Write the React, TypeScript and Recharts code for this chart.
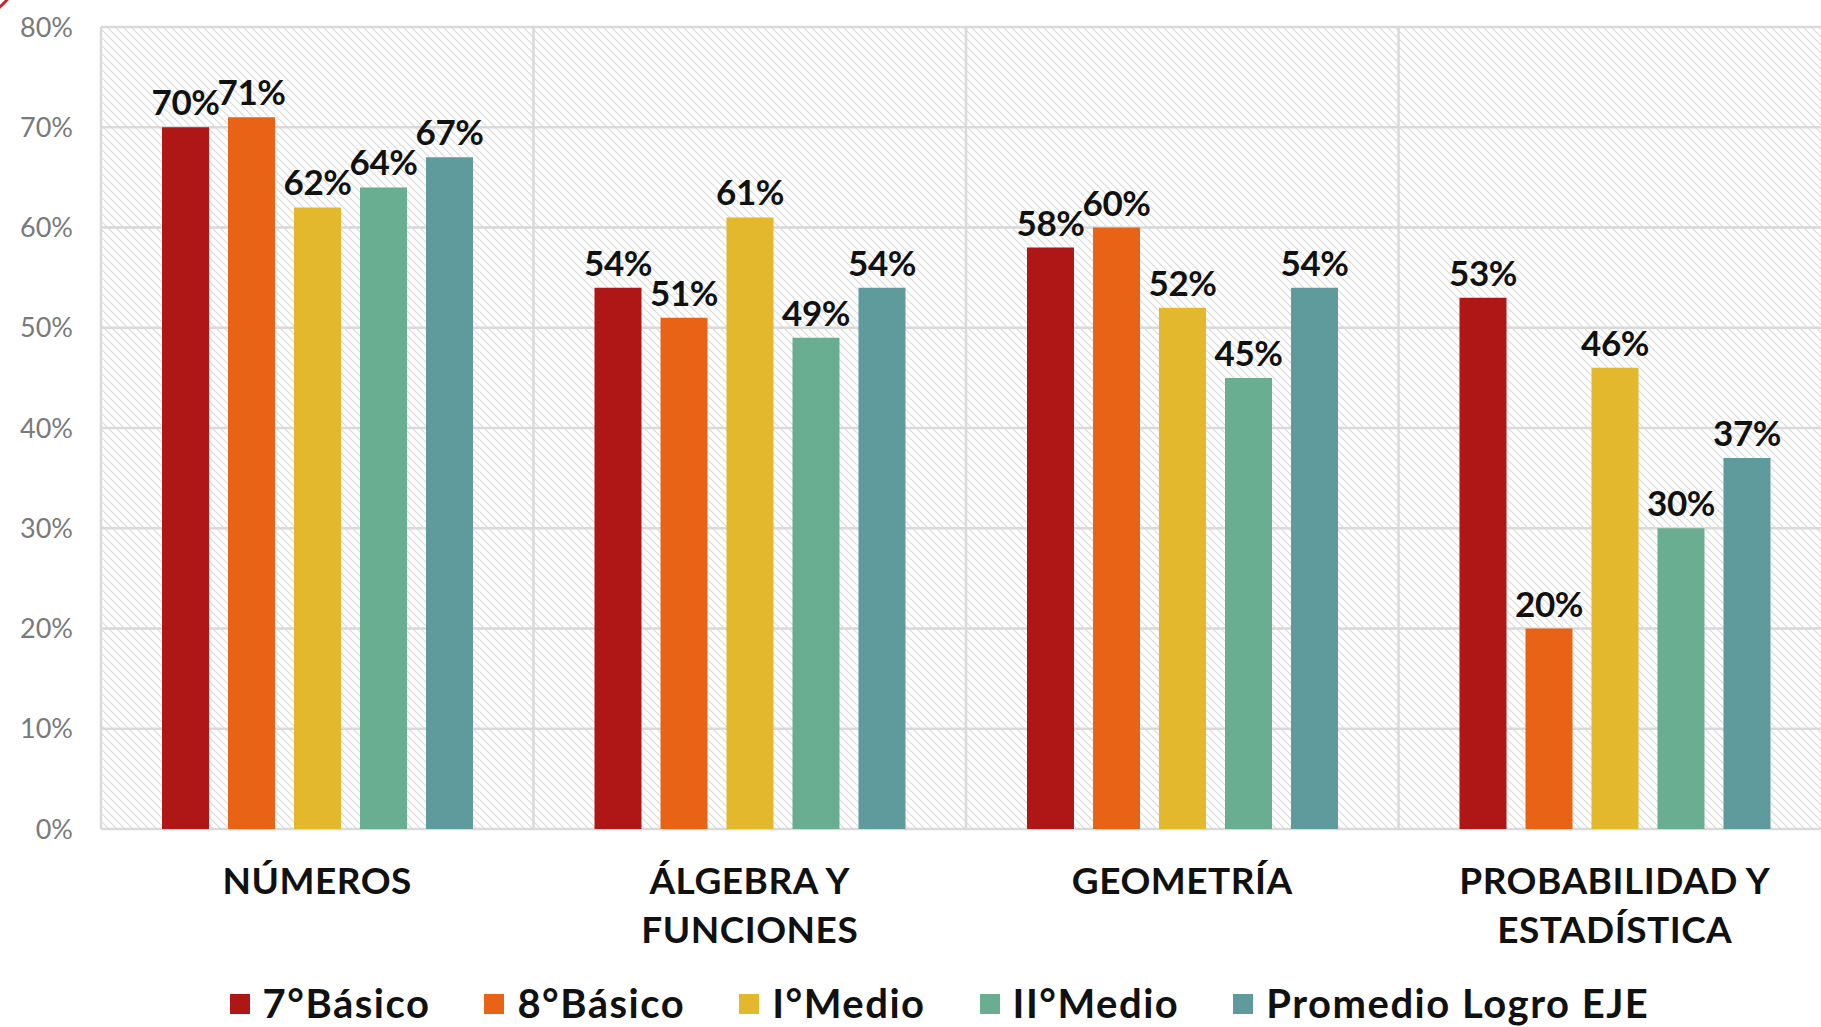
import React from 'react';
import { BarChart, Bar, XAxis, YAxis, CartesianGrid, Legend, LabelList } from 'recharts';

const categories = ['NÚMEROS', 'ÁLGEBRA Y\nFUNCIONES', 'GEOMETRÍA', 'PROBABILIDAD Y\nESTADÍSTICA'];
const septimoBasico = [70, 54, 58, 53];
const octavoBasico = [71, 51, 60, 20];
const primeroMedio = [62, 61, 52, 46];
const segundoMedio = [64, 49, 45, 30];
const promedioEje = [67, 54, 54, 37];
const yTicks = [0, 10, 20, 30, 40, 50, 60, 70, 80];
const gridTicks = [0, 1, 2, 3, 4];

const series = [
  { key: 'septimo', name: '7°Básico', color: '#AF1616', values: septimoBasico },
  { key: 'octavo', name: '8°Básico', color: '#E86315', values: octavoBasico },
  { key: 'primero', name: 'I°Medio', color: '#E4B82C', values: primeroMedio },
  { key: 'segundo', name: 'II°Medio', color: '#6AAE91', values: segundoMedio },
  { key: 'promedio', name: 'Promedio Logro EJE', color: '#5F9B9D', values: promedioEje },
];

const data = categories.map((cat, i) => {
  const row: Record<string, string | number> = { cat, pos: i };
  series.forEach((s) => {
    row[s.key] = s.values[i];
  });
  return row;
});

const FONT = 'Lato, "Open Sans", sans-serif';

const CategoryTick = (props: any) => {
  const { x, y, payload } = props;
  const lines = String(payload.value).split('\n');
  return (
    <g transform={`translate(${x},${y})`}>
      {lines.map((line, i) => (
        <text
          key={i}
          x={0}
          y={65 + i * 49}
          textAnchor="middle"
          fill="#111"
          fontFamily={FONT}
          fontWeight={700}
          fontSize={37}
          letterSpacing={0.5}
        >
          {line}
        </text>
      ))}
    </g>
  );
};

const renderValueLabel = (props: any) => {
  const { x, y, width, value } = props;
  return (
    <text
      x={Number(x) + Number(width) / 2}
      y={Number(y) - 12}
      textAnchor="middle"
      fill="#111"
      fontFamily={FONT}
      fontWeight={700}
      fontSize={35}
      letterSpacing={-0.5}
    >
      {value}%
    </text>
  );
};

const renderLegend = () => (
  <div
    style={{
      display: 'flex',
      justifyContent: 'center',
      alignItems: 'center',
      height: 47,
      paddingLeft: 48,
      gap: 54,
    }}
  >
    {series.map((s) => (
      <div key={s.key} style={{ display: 'flex', alignItems: 'center' }}>
        <span style={{ width: 20, height: 20, background: s.color, marginRight: 13, display: 'inline-block' }} />
        <span
          style={{
            fontFamily: FONT,
            fontWeight: 700,
            fontSize: 40,
            letterSpacing: 1.5,
            color: '#111',
            lineHeight: '47px',
            whiteSpace: 'nowrap',
          }}
        >
          {s.name}
        </span>
      </div>
    ))}
  </div>
);

export default function App() {
  return (
    <div style={{ position: 'absolute', left: 0, top: 0, width: 1821, height: 1027, overflow: 'hidden', background: '#fff' }}>
      <div
        style={{
          position: 'absolute',
          left: -91,
          top: -91,
          width: 112,
          height: 112,
          boxSizing: 'border-box',
          border: '3px solid #C0282D',
          borderRadius: '50%',
        }}
      />
      <BarChart
        width={1831}
        height={1027}
        data={data}
        margin={{ top: 27, right: 0, bottom: 0, left: 0 }}
        barCategoryGap={61}
        barGap={19}
      >
        <defs>
          <pattern id="hatch" patternUnits="userSpaceOnUse" width={8} height={8}>
            <rect width={8} height={8} fill="#ffffff" />
            <path d="M0,0 L8,8 M-4,4 L4,12 M4,-4 L12,4" stroke="#dadada" strokeWidth={1.2} />
          </pattern>
        </defs>
        <CartesianGrid xAxisId="grid" fill="url(#hatch)" stroke="#d9d9d9" strokeWidth={2.5} />
        <XAxis
          xAxisId="grid"
          dataKey="pos"
          type="number"
          domain={[0, 4]}
          allowDataOverflow
          ticks={gridTicks}
          interval={0}
          hide
        />
        <XAxis
          xAxisId="cat"
          dataKey="cat"
          axisLine={false}
          tickLine={false}
          tickSize={0}
          tickMargin={0}
          height={151}
          interval={0}
          tick={<CategoryTick />}
        />
        <YAxis
          domain={[0, 80]}
          ticks={yTicks}
          width={101}
          axisLine={false}
          tickLine={false}
          tickSize={0}
          tickMargin={28}
          tickFormatter={(v: number) => `${v}%`}
          tick={{ fill: '#7a7a7a', fontFamily: FONT, fontSize: 27 }}
        />
        <Legend verticalAlign="bottom" height={47} content={renderLegend} />
        {series.map((s) => (
          <Bar key={s.key} xAxisId="cat" dataKey={s.key} name={s.name} fill={s.color} isAnimationActive={false}>
            <LabelList dataKey={s.key} content={renderValueLabel} />
          </Bar>
        ))}
      </BarChart>
    </div>
  );
}
